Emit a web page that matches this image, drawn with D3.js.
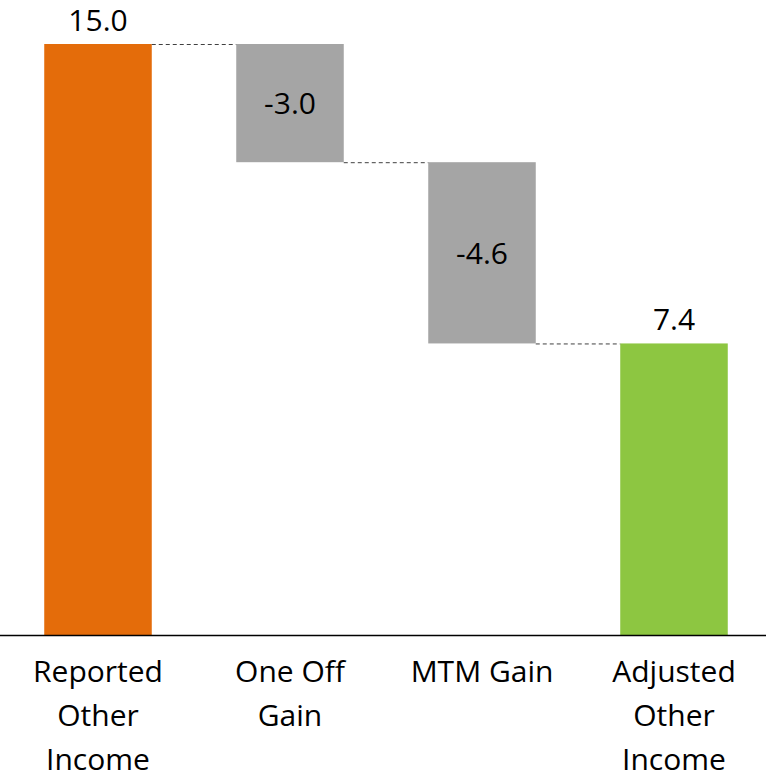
<!DOCTYPE html>
<html>
<head>
<meta charset="utf-8">
<script src="https://cdn.jsdelivr.net/npm/d3@7"></script>
<style>
  html, body { margin: 0; padding: 0; background: #fff; }
  svg text { font-family: "Open Sans", sans-serif; fill: #000; }
</style>
</head>
<body>
<svg id="chart" width="766" height="779"></svg>
<script>
// Waterfall: reported other income, adjustments, adjusted other income
const categories = [["Reported", "Other", "Income"], ["One Off", "Gain"], ["MTM Gain"], ["Adjusted", "Other", "Income"]];
const values = [15.0, -3.0, -4.6, 7.4];
const kinds = ["total", "delta", "delta", "total"];
const colors = { start: "#E46C0A", delta: "#A5A5A5", end: "#8DC641" };

const W = 766, H = 779;
const svg = d3.select("#chart");

const x = d3.scaleBand().domain(d3.range(categories.length)).range([2, 770]).paddingInner(0.44).paddingOuter(0.22);
const y = d3.scaleLinear().domain([0, 15]).range([635, 44]);

// running totals for floating segments
let run = 0;
const bars = values.map((v, i) => {
  let y0, y1;
  if (kinds[i] === "total") { y0 = 0; y1 = v; run = v; }
  else { y0 = run + v; y1 = run; run = run + v; }
  return { i, v, y0, y1, end: run,
    color: i === 0 ? colors.start : (kinds[i] === "total" ? colors.end : colors.delta) };
});

svg.selectAll("rect.bar").data(bars).enter().append("rect")
  .attr("class", "bar")
  .attr("x", d => x(d.i))
  .attr("width", x.bandwidth())
  .attr("y", d => y(d.y1))
  .attr("height", d => y(d.y0) - y(d.y1))
  .attr("fill", d => d.color);

// dashed connectors between consecutive bars
svg.selectAll("line.conn").data(bars.slice(0, -1)).enter().append("line")
  .attr("x1", d => x(d.i) + x.bandwidth())
  .attr("x2", d => x(d.i + 1))
  .attr("y1", d => y(d.end) + 0.5)
  .attr("y2", d => y(d.end) + 0.5)
  .attr("stroke", "#404040")
  .attr("stroke-width", 1)
  .attr("stroke-dasharray", "4,3");

// baseline axis
svg.append("line")
  .attr("x1", 0).attr("x2", W)
  .attr("y1", y(0) + 0.5).attr("y2", y(0) + 0.5)
  .attr("stroke", "#000").attr("stroke-width", 1.5);

// value labels
svg.selectAll("text.val").data(bars).enter().append("text")
  .attr("x", d => x(d.i) + x.bandwidth() / 2)
  .attr("y", d => kinds[d.i] === "total" ? y(d.y1) - 13 : (y(d.y0) + y(d.y1)) / 2 + 11)
  .attr("text-anchor", "middle")
  .attr("font-size", 30)
  .text(d => d.v.toFixed(1));

// category labels
const cat = svg.selectAll("text.cat").data(categories).enter().append("text")
  .attr("text-anchor", "middle")
  .attr("font-size", 30)
  .attr("x", (d, i) => x(i) + x.bandwidth() / 2)
  .attr("y", 682);
cat.selectAll("tspan").data(d => d).enter().append("tspan")
  .attr("x", function () { return d3.select(this.parentNode).attr("x"); })
  .attr("dy", (d, j) => j === 0 ? 0 : 44)
  .text(d => d);
</script>
</body>
</html>
